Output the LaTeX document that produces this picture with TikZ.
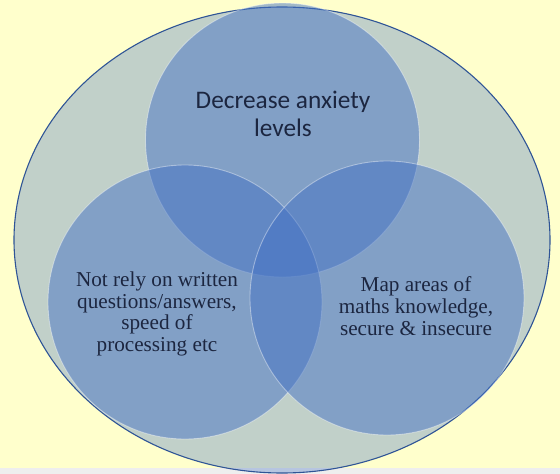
\documentclass[tikz,border=0pt]{standalone}
\usepackage{fontspec}
\setmainfont{Liberation Serif}
\newfontfamily\calib{Carlito}
\definecolor{bgyellow}{HTML}{FFFFCC}
\definecolor{stripgrey}{HTML}{EEEEEE}
\definecolor{vennblue}{HTML}{4472C4}
\definecolor{edgeblue}{HTML}{2F5496}
\definecolor{textnavy}{HTML}{1C2640}
\tikzset{
  outer/.style={fill=vennblue, fill opacity=0.33, draw=edgeblue, draw opacity=1, line width=1.1pt},
  venn/.style={fill=vennblue, fill opacity=0.5, draw=white, draw opacity=0.4, line width=0.9pt},
  seriflabel/.style={text=textnavy, align=center, font=\fontsize{21.2}{21.8}\selectfont, inner sep=0pt},
  sanslabel/.style={text=textnavy, align=center, font=\calib\fontsize{25.3}{27.8}\selectfont, inner sep=0pt}
}
\begin{document}
\begin{tikzpicture}[x=1pt,y=-1pt]
\useasboundingbox (0,0) rectangle (560,474);
\fill[bgyellow] (0,0) rectangle (560,468);
\fill[stripgrey] (0,468) rectangle (560,474);
\path[outer] (282,240) ellipse [x radius=268, y radius=233];
\path[venn] (282.5,140) circle [radius=137];
\path[venn] (185,302) circle [radius=137];
\path[venn] (387,298) circle [radius=137];
\node[sanslabel] (top) at (283,114) {Decrease anxiety\\levels};
\node[seriflabel] (left) at (157,314) {Not rely on written\\questions/answers,\\speed of\\processing etc};
\node[seriflabel] (right) at (416,306) {Map areas of\\maths knowledge,\\secure \& insecure};
\end{tikzpicture}
\end{document}
